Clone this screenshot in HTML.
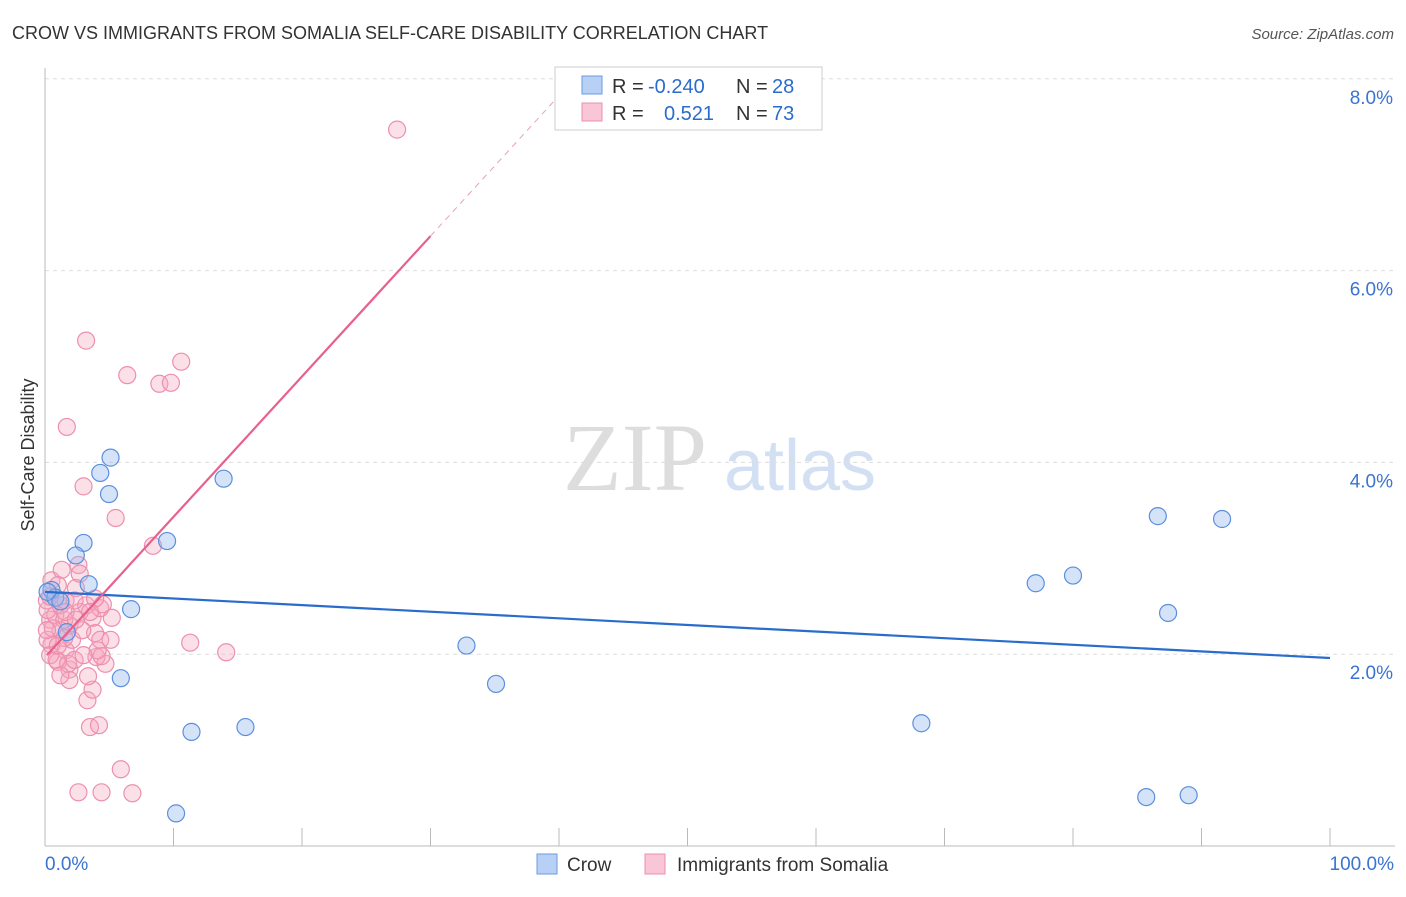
<!DOCTYPE html>
<html><head><meta charset="utf-8"><style>
body{margin:0;background:#fff;font-family:"Liberation Sans",sans-serif}
</style></head><body>
<svg width="1406" height="892" xmlns="http://www.w3.org/2000/svg" font-family="Liberation Sans, sans-serif">
<text x="12" y="39" font-size="18" fill="#333">CROW VS IMMIGRANTS FROM SOMALIA SELF-CARE DISABILITY CORRELATION CHART</text>
<text x="1394" y="39" font-size="15" fill="#555" font-style="italic" text-anchor="end">Source: ZipAtlas.com</text>
<g>
<text x="635" y="490" font-size="96" fill="#ddd" font-family="Liberation Serif, serif" text-anchor="middle">ZIP</text>
<text x="800" y="490" font-size="72" fill="#d3e0f3" text-anchor="middle">atlas</text>
</g>
<g id="grid"></g>
<g id="axes"></g>
<g id="marks"></g>
<text transform="translate(34,455) rotate(-90)" font-size="18" fill="#333" text-anchor="middle">Self-Care Disability</text>
<g>
<rect x="555" y="67" width="267" height="63" fill="#fff" stroke="#ccc"/>
<rect x="582" y="76" width="20" height="18" fill="#b8d0f5" stroke="#6a9be0"/>
<text x="612" y="93" font-size="20" fill="#333">R = </text><text x="648" y="93" font-size="20" fill="#2a6ccc">-0.240</text>
<text x="736" y="93" font-size="20" fill="#333">N = </text><text x="772" y="93" font-size="20" fill="#2a6ccc">28</text>
<rect x="582" y="103" width="20" height="18" fill="#f9c6d6" stroke="#ec8fb0"/>
<text x="612" y="120" font-size="20" fill="#333">R = </text><text x="664" y="120" font-size="20" fill="#2a6ccc">0.521</text>
<text x="736" y="120" font-size="20" fill="#333">N = </text><text x="772" y="120" font-size="20" fill="#2a6ccc">73</text>
</g>
<g>
<rect x="537" y="854" width="20" height="20" fill="#b8d0f5" stroke="#6a9be0"/>
<text x="567" y="871" font-size="19" fill="#333">Crow</text>
<rect x="645" y="854" width="20" height="20" fill="#f9c6d6" stroke="#ec8fb0"/>
<text x="677" y="871" font-size="19" fill="#333">Immigrants from Somalia</text>
</g>
</svg>
<script>
const yTicks=[2,4,6,8];
const yTickLabels=["2.0%","4.0%","6.0%","8.0%"];
const xTickVals=[0,10,20,30,40,50,60,70,80,90,100];
const crowX=[0.5,4.3,5.1,4.98,13.9,3.0,2.4,9.5,3.4,6.7,0.8,1.7,5.9,11.4,15.6,10.2,32.8,35.1,68.2,77.1,80.0,86.6,91.6,87.4,85.7,89.0,0.2,1.2];
const crowY=[2.67,3.89,4.05,3.67,3.83,3.16,3.03,3.18,2.73,2.47,2.59,2.23,1.75,1.19,1.24,0.34,2.09,1.69,1.28,2.74,2.82,3.44,3.41,2.43,0.51,0.53,2.65,2.55];
const somX=[27.4,3.2,10.6,6.4,8.9,9.8,1.7,3.0,5.5,8.4,11.3,14.1,5.9,2.6,4.4,6.8,3.5,4.2,3.3,3.7,3.35,1.9,1.0,4.7,4.0,4.4,4.1,1.6,0.5,0.2,2.1,3.9,1.2,5.2,3.7,2.7,4.3,4.5,0.4,0.8,0.2,1.2,1.6,2.4,0.5,1.3,2.6,1.0,0.15,3.2,2.7,3.9,1.9,2.9,1.5,0.4,0.9,1.8,2.3,1.5,3.5,4.3,0.6,0.15,2.3,1.0,3.0,5.1,1.9,1.2,0.4,1.6,2.4];
const somY=[7.47,5.27,5.05,4.91,4.82,4.83,4.37,3.75,3.42,3.13,2.12,2.02,0.80,0.56,0.56,0.55,1.24,1.26,1.52,1.63,1.77,1.84,1.92,1.90,1.97,1.98,2.04,2.04,2.10,2.15,2.15,2.22,2.25,2.38,2.38,2.44,2.48,2.52,2.36,2.41,2.46,2.51,2.56,2.69,2.77,2.88,2.93,2.72,2.56,2.51,2.84,2.58,2.30,2.25,2.17,1.99,1.94,1.90,1.94,2.36,2.44,2.15,2.27,2.25,2.56,2.09,1.99,2.15,1.73,1.78,2.60,2.44,2.36];
const crowTrend=[[0,2.65],[100,1.96]];
const somTrendSolid=[[0.15,1.99],[30,6.36]];
const somTrendDash=[[30,6.36],[41.2,8.0]];
const NS="http://www.w3.org/2000/svg";
const X0=45,X1=1330,YB=846,PX=95.9;
const xs=v=>X0+v*(X1-X0)/100;
const ys=v=>YB-v*PX;
function mk(t,a,p){const e=document.createElementNS(NS,t);for(const k in a)e.setAttribute(k,a[k]);p.appendChild(e);return e;}
const grid=document.getElementById('grid'),axes=document.getElementById('axes'),marks=document.getElementById('marks');
yTicks.forEach((v,i)=>{
 const l=mk('line',{x1:X0,x2:1395,y1:ys(v),y2:ys(v),stroke:'#ddd','stroke-dasharray':'4,4'},grid);
 
 
 const t=mk('text',{x:1393,y:ys(v)+25,'font-size':19,fill:'#3a73d0','text-anchor':'end'},axes);
 t.textContent=yTickLabels[i];
 
 
});
const ax=mk('line',{x1:X0,x2:1395,y1:YB,y2:YB,stroke:'#bbb'},axes);


const ay=mk('line',{x1:X0,x2:X0,y1:68,y2:YB,stroke:'#bbb'},axes);


xTickVals.forEach(v=>{
 const l=mk('line',{x1:xs(v),x2:xs(v),y1:YB,y2:YB-18,stroke:'#bbb'},axes);
 
 
});
const xl0=mk('text',{x:45,y:870,'font-size':19,fill:'#3a73d0'},axes);xl0.textContent='0.0%';


const xl1=mk('text',{x:1394,y:870,'font-size':19,fill:'#3a73d0','text-anchor':'end'},axes);xl1.textContent='100.0%';


somX.forEach((x,i)=>{
 const c=mk('circle',{cx:xs(x),cy:ys(somY[i]),r:8.5,fill:'rgba(245,165,190,0.35)',stroke:'#ec8fb0','stroke-width':1.2},marks);
 
 
});
crowX.forEach((x,i)=>{
 const c=mk('circle',{cx:xs(x),cy:ys(crowY[i]),r:8.5,fill:'rgba(150,185,240,0.4)',stroke:'#5b8fde','stroke-width':1.2},marks);
 
 
});
const t1=mk('line',{x1:xs(crowTrend[0][0]),y1:ys(crowTrend[0][1]),x2:xs(crowTrend[1][0]),y2:ys(crowTrend[1][1]),stroke:'#2a6ccc','stroke-width':2.2},marks);


const t2=mk('line',{x1:xs(somTrendSolid[0][0]),y1:ys(somTrendSolid[0][1]),x2:xs(somTrendSolid[1][0]),y2:ys(somTrendSolid[1][1]),stroke:'#e8608e','stroke-width':2.2},marks);


const t3=mk('line',{x1:xs(somTrendDash[0][0]),y1:ys(somTrendDash[0][1]),x2:xs(somTrendDash[1][0]),y2:ys(somTrendDash[1][1]),stroke:'#e8a0b8','stroke-width':1,'stroke-dasharray':'6,5'},marks);


</script>
</body></html>
